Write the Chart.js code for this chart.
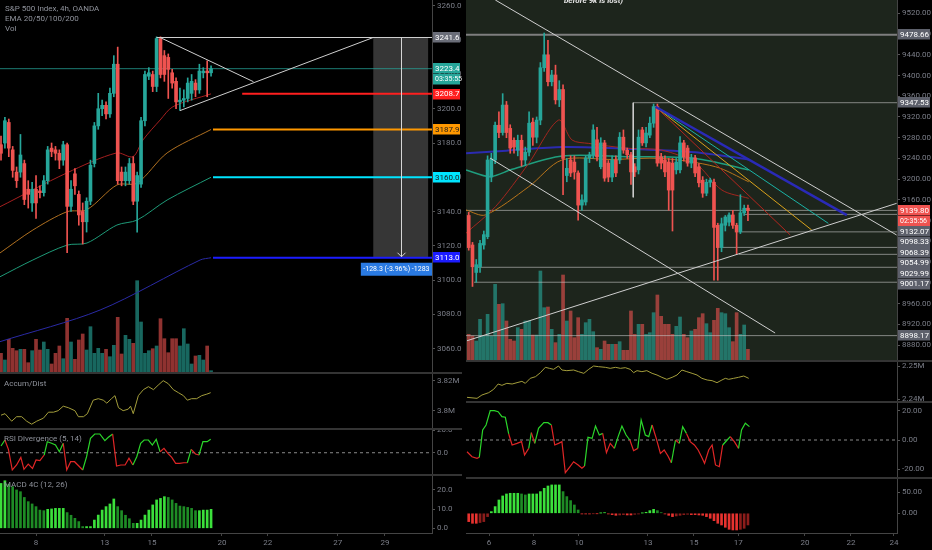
<!DOCTYPE html>
<html lang="en">
<head>
<meta charset="UTF-8">
<title>S&amp;P 500 4h / BTC 4h</title>
<script src="https://cdn.jsdelivr.net/npm/chart.js"></script>
<style>
  body { margin:0; background:#000; width:932px; height:550px; overflow:hidden; position:relative;
         font-family: Roboto, "Liberation Sans", sans-serif; }
  canvas { position:absolute; }
  .txt { position:absolute; color:#8f929b; font-size:8px; line-height:10px; white-space:nowrap; }
  .note { position:absolute; color:#e6e6e6; font-size:8px; font-style:italic; font-weight:bold; white-space:nowrap; }
  .sep { position:absolute; background:#343434; height:2px; }
</style>
</head>
<body>
<canvas id="lMain" width="462" height="373" style="left:0;top:0"></canvas>
<canvas id="lAd" width="462" height="56" style="left:0;top:373px"></canvas>
<canvas id="lRsi" width="462" height="46" style="left:0;top:429px"></canvas>
<canvas id="lMacd" width="462" height="75" style="left:0;top:475px"></canvas>
<canvas id="rMain" width="466" height="361" style="left:466px;top:0"></canvas>
<canvas id="rAd" width="466" height="41" style="left:466px;top:361px"></canvas>
<canvas id="rRsi" width="466" height="76" style="left:466px;top:402px"></canvas>
<canvas id="rMacd" width="466" height="72" style="left:466px;top:478px"></canvas>

<div class="sep" style="left:0;width:462px;top:372px"></div>
<div class="sep" style="left:0;width:462px;top:428px"></div>
<div class="sep" style="left:0;width:462px;top:474px"></div>
<div class="sep" style="left:466px;width:466px;top:360px"></div>
<div class="sep" style="left:466px;width:466px;top:401px"></div>
<div class="sep" style="left:466px;width:466px;top:477px"></div>

<div class="txt" style="left:5px;top:4px">S&amp;P 500 Index, 4h, OANDA</div>
<div class="txt" style="left:5px;top:14px">EMA 20/50/100/200</div>
<div class="txt" style="left:5px;top:24px">Vol</div>
<div class="txt" style="left:4px;top:379px">Accum/Dist</div>
<div class="txt" style="left:4px;top:434px">RSI Divergence (5, 14)</div>
<div class="txt" style="left:4px;top:480px">MACD 4C (12, 26)</div>
<div class="note" style="left:564px;top:-4px">before 9k is lost)</div>

<script>
// ---------- S&P 500 (left), candle index = 4h bar ----------
const spxOHLC = [
  [3179,3184,3170,3174],[3180,3195,3177,3193],[3192,3194,3172,3177],[3176,3178,3160,3164],[3163,3166,3154,3158],
  [3163,3185,3160,3173],[3168,3170,3144,3147],[3153,3158,3142,3150],[3145,3157,3140,3153],[3153,3161,3136,3145],
  [3152,3155,3148,3151],[3151,3161,3149,3158],[3158,3178,3156,3176],[3177,3180,3172,3175],[3176,3178,3170,3174],
  [3174,3176,3165,3170],[3170,3181,3167,3179],[3179,3180,3116,3143],[3143,3158,3140,3153],[3162,3165,3150,3155],
  [3150,3152,3132,3138],[3140,3145,3121,3134],[3134,3148,3128,3146],[3146,3170,3144,3167],[3168,3192,3166,3190],
  [3190,3209,3188,3200],[3200,3205,3196,3202],[3202,3204,3194,3197],[3197,3212,3195,3209],[3209,3231,3207,3226],
  [3226,3236,3156,3158],[3163,3166,3155,3158],[3158,3166,3155,3163],[3158,3171,3156,3168],[3168,3172,3144,3146],
  [3146,3163,3128,3161],[3156,3195,3154,3193],[3193,3222,3190,3220],[3219,3224,3217,3221],[3220,3222,3210,3213],
  [3213,3242,3210,3241],[3241,3242,3218,3220],[3231,3234,3216,3220],[3230,3232,3206,3223],[3221,3223,3212,3215],
  [3216,3218,3200,3204],[3204,3212,3199,3205],[3205,3211,3201,3206],[3206,3218,3204,3215],[3209,3220,3205,3216],
  [3215,3217,3207,3211],[3211,3226,3209,3222],[3221,3224,3218,3222],[3222,3228,3207,3221],[3221,3225,3219,3223.4]
];
const spxVol = [1970,1300,3370,2470,2230,2370,2370,1030,2230,3370,2300,3100,2370,900,1970,2700,1430,5470,3100,1370,
  3300,3900,2300,4630,1970,2470,1970,2370,1630,2770,5570,1900,3770,3370,2970,9230,5100,1970,2230,2430,
  2700,5430,3430,2030,3430,3430,2700,4430,2900,900,1700,1770,1300,2700,230];
const spxEma20 = [[-0.26,3142.8],[16.9,3162.5],[29.7,3174.2],[33.9,3172.0],[36.5,3181.8],[40.9,3193.4],[44.2,3201.2],[54,3208.7]];
const spxEma50 = [[-0.26,3115.8],[8.2,3129.2],[17.0,3139.9],[22.1,3141.1],[29.8,3155.5],[35.0,3156.6],[42.7,3174.2],[54,3187.9]];
const spxEma100 = [[-0.26,3101.9],[8.2,3111.7],[17.0,3120.4],[22.1,3121.6],[29.8,3132.1],[35.0,3135.0],[42.7,3146.7],[54,3160.0]];
const spxEma200 = [[-0.26,3064.0],[25.5,3082.5],[51.2,3111.7],[54,3113.0]];
const spxLevels = [3223.4, 3208.7, 3187.9, 3160.0, 3113.0];
const spxLevelFrom = [-0.26, 62, 54.5, 54.5, 54.5];
const spxTopLine = 3241.6;
const spxTrend = [[40.0,3241.6,110.8,3241.6],[40.9,3241.6,64.9,3215.8],[46.0,3198.9,95.7,3241.6]];
const spxProj = [95.7, 109.8, 3241.6, 3113.0, 102.8];
const spxProjText = '-128.3 (-3.96%) -1283';
const spxClock = '03:35:55';
const spxPriceTicks = [3060,3080,3100,3120,3140,3160,3180,3200,3220,3240,3260];
const spxAD = [[0,3.797],[1.03,3.798],[2.74,3.793],[4.02,3.796],[5.31,3.796],[6.6,3.793],[7.88,3.791],[9.17,3.793],
  [10.9,3.795],[12.2,3.799],[13.5,3.799],[14.7,3.800],[16.0,3.803],[17.3,3.802],[19.0,3.800],[19.9,3.796],[21.2,3.796],
  [22.2,3.798],[23.7,3.807],[25.0,3.808],[26.3,3.807],[27.2,3.805],[28.4,3.808],[29.3,3.810],[30.2,3.802],[31.4,3.800],
  [32.7,3.801],[33.3,3.803],[34.0,3.798],[35.3,3.810],[36.6,3.814],[37.9,3.816],[39.2,3.814],[40.4,3.817],[41.7,3.820],
  [43.0,3.818],[44.3,3.814],[45.6,3.812],[46.9,3.810],[47.9,3.807],[49.0,3.808],[50.3,3.808],[51.6,3.810],[52.9,3.811],[53.9,3.812]];
const spxRSI = [[0,5.9],[1.0,11.2],[1.9,3.0],[2.9,-15.2],[4.0,-10.8],[5.1,-4.1],[5.9,-14.6],[7.0,-10.0],[8.1,-13.8],
  [9.0,-6.4],[10.0,-7.0],[11.1,-2.0],[11.9,9.7],[13.0,8.3],[14.0,6.8],[15.0,0.9],[16.0,8.3],[16.9,-15.2],[17.9,-7.9],
  [18.9,-7.9],[20.0,-11.7],[21.0,-15.2],[22.0,-3.5],[23.0,12.7],[24.1,16.5],[25.4,16.5],[26.7,10.6],[27.6,13.6],
  [28.7,16.5],[29.7,-11.7],[30.8,-10.8],[31.9,-10.8],[32.9,-4.9],[33.9,-10.8],[34.9,-3.5],[35.9,8.3],[36.8,11.2],
  [37.9,11.2],[38.9,6.8],[39.9,11.8],[40.9,0.9],[41.9,3.9],[42.9,-0.5],[43.9,-4.1],[44.9,-9.3],[45.9,-9.3],[47.0,-8.8],
  [47.9,-8.8],[48.9,3.0],[50.0,-1.1],[50.9,-2.0],[51.9,9.7],[53.0,9.7],[53.9,11.8]];
const spxRSIcol = 'ggrrrrrrrrrrgggggrrrrrgggggggrrrrrgggggggrrrrrrrgrrggg';
const spxMACD = [23.4,24.8,22.9,21.7,20.0,19.1,16.1,13.9,12.7,11.3,9.5,9.2,9.9,10.1,10.4,10.4,10.4,8.2,6.8,5.2,
  3.5,0.9,0.9,0.9,4.3,6.9,9.5,11.3,12.7,15.3,11.3,9.2,6.8,5.0,2.6,2.6,4.3,6.9,9.5,12.2,
  14.8,15.6,16.5,16.1,14.8,13.0,11.6,11.3,10.9,10.4,9.2,9.2,9.5,9.5,9.9];
const spxDays = ['8','13','15','20','22','27','29'];
const spxDayAt = [9.0, 26.7, 38.8, 56.8, 68.6, 86.6, 98.7];

// ---------- BTC (right) ----------
const btcOHLC = [
  [9130,9136,9063,9068],[9073,9078,8993,9031],[9020,9045,9001,9035],[9031,9082,9020,9076],[9073,9100,9065,9093],
  [9089,9245,9085,9237],[9204,9250,9195,9239],[9237,9310,9230,9304],[9304,9330,9280,9290],[9290,9365,9285,9343],
  [9343,9350,9280,9290],[9298,9305,9250,9260],[9275,9280,9250,9262],[9256,9285,9245,9275],[9275,9285,9225,9237],
  [9237,9262,9226,9252],[9252,9330,9245,9308],[9310,9318,9265,9281],[9281,9320,9270,9314],[9314,9425,9305,9415],
  [9415,9482,9408,9440],[9440,9468,9380,9388],[9388,9410,9380,9401],[9401,9420,9345,9353],[9353,9390,9340,9373],
  [9373,9382,9170,9240],[9207,9240,9195,9221],[9237,9245,9205,9212],[9233,9245,9200,9214],[9212,9216,9121,9150],
  [9150,9170,9140,9160],[9156,9245,9150,9241],[9241,9252,9232,9247],[9247,9305,9240,9295],[9276,9300,9235,9243],
  [9224,9280,9220,9270],[9270,9275,9196,9202],[9231,9236,9195,9204],[9204,9245,9195,9237],[9237,9245,9205,9212],
  [9237,9290,9230,9281],[9281,9295,9250,9256],[9256,9260,9240,9247],[9247,9252,9190,9214],[9224,9230,9205,9214],
  [9218,9295,9210,9281],[9295,9300,9265,9270],[9270,9300,9262,9289],[9285,9320,9280,9308],[9308,9345,9300,9340],
  [9340,9345,9225,9231],[9243,9250,9220,9231],[9237,9245,9205,9214],[9233,9240,9140,9179],[9231,9240,9100,9179],
  [9218,9240,9210,9233],[9218,9282,9212,9270],[9270,9275,9235,9243],[9260,9265,9225,9231],[9231,9248,9222,9241],
  [9241,9246,9205,9212],[9224,9230,9185,9193],[9198,9205,9165,9173],[9173,9200,9168,9194],[9194,9202,9185,9198],
  [9194,9200,9005,9107],[9111,9115,9005,9068],[9068,9125,9060,9114],[9111,9130,9100,9127],[9117,9135,9110,9131],
  [9131,9140,9105,9111],[9111,9115,9055,9098],[9098,9170,9095,9135],[9135,9150,9130,9144],[9144,9150,9120,9139.8]
];
const btcVol = [2667,2500,2000,4167,2500,4667,2500,7667,5667,5733,4000,2167,2000,3333,3167,4000,4000,2600,2600,9000,
  5333,5400,3167,1833,2667,8600,4000,5000,2333,4333,2667,3833,4167,2933,1333,1167,2000,1667,1667,1667,
  1933,1067,1067,5000,2667,3667,3667,2667,2833,4833,6600,4467,3667,3667,2667,3467,4400,2667,2333,3000,
  3167,4333,4733,3733,2833,4067,5267,4833,4733,3333,1933,4833,2667,3600,1167];
const btcEma20 = [[-0.7,9096],[7.1,9147],[15.9,9230.6],[23.8,9314],[27.4,9275.5],[31.8,9269],[42.4,9259.5],[51.2,9256],[60.1,9230.6],[67.1,9179],[74.2,9163]];
const btcEma50 = [[-0.7,9140.5],[4.4,9131],[15.9,9185.4],[24.7,9237],[38,9238],[51.2,9240],[65.4,9224],[74.2,9195]];
const btcEma100 = [[-0.7,9217.7],[5.7,9204.8],[11.5,9219],[24.7,9244.7],[42.4,9243.3],[60.1,9240],[74.2,9217.7]];
const btcEma200 = [[-0.7,9250],[10,9255],[25,9262],[45,9258],[60,9252],[74.2,9238]];
const btcLevels = [9478.66, 9347.53, 9139.80, 9132.07, 9098.33, 9068.39, 9054.99, 9029.99, 9001.17, 8898.17];
const btcLevelFrom = [-0.72, 43.6, -0.72, 73.2, 72.4, 67.2, 71.6, 2.2, 1.4, -0.72];
const btcTrend = [[7.05,9545.7,113.4,9092.3],[5.65,9240.8,81.2,8903.2],[-0.45,8888.3,113.4,9153.4],[43.6,9347.53,43.6,9165]];
const btcFanApex = [49.5, 9339.8];
const btcFanEnds = [[100.2,9130.8],[95.3,9114.8],[90.9,9101.9],[85.2,9092.3]];
const btcClock = '02:35:56';
const btcPriceTicks = [8880,8920,8960,9000,9040,9080,9120,9160,9200,9240,9280,9320,9360,9400,9440,9480,9520];
const btcAD = [[-0.45,2.2406],[2.2,2.2403],[3.5,2.2413],[5.3,2.2420],[6.6,2.2430],[7.8,2.2446],[8.8,2.2442],[10.1,2.2448],
  [11.5,2.2446],[12.8,2.2450],[14.1,2.2454],[15.0,2.2448],[16.3,2.2463],[17.7,2.2468],[19.0,2.2480],[20.3,2.2496],
  [21.4,2.2493],[22.5,2.2490],[23.8,2.2500],[24.7,2.2488],[26.0,2.2486],[27.8,2.2488],[29.1,2.2483],[30.5,2.2478],
  [31.8,2.2490],[33.1,2.2500],[34.4,2.2498],[36.2,2.2496],[37.5,2.2493],[38.9,2.2496],[40.2,2.2493],[41.5,2.2495],
  [42.8,2.2490],[43.7,2.2480],[44.6,2.2486],[45.9,2.2483],[47.2,2.2486],[48.6,2.2478],[49.9,2.2473],[51.2,2.2466],
  [52.5,2.2460],[53.9,2.2466],[55.2,2.2473],[56.5,2.2488],[57.8,2.2483],[59.2,2.2478],[60.5,2.2473],[61.8,2.2463],
  [63.2,2.2458],[64.5,2.2456],[65.8,2.2450],[67.1,2.2458],[68.0,2.2463],[68.9,2.2460],[70.2,2.2463],[71.5,2.2466],
  [72.9,2.2470],[74.2,2.2463]];
const btcRSI = [[-0.45,-8.0],[0.87,-11.4],[2.2,-12.5],[2.8,-11.8],[3.7,6.8],[4.6,10.2],[5.7,20.0],[6.8,20.0],[7.8,19.3],
  [8.8,15.9],[9.7,15.5],[10.6,4.1],[11.5,-3.4],[12.8,-2.3],[14.0,-1.1],[14.8,-10.2],[15.9,-5.7],[16.6,5.0],[17.5,-2.3],
  [18.5,8.0],[19.9,11.8],[21.0,11.8],[21.9,10.2],[22.8,-3.4],[23.8,-2.3],[24.7,-1.1],[25.6,-22.3],[26.7,-18.6],
  [27.8,-14.8],[29.0,-17.0],[30.0,-19.3],[30.7,-17.7],[31.6,1.8],[32.7,1.1],[33.6,9.5],[34.6,3.4],[35.5,4.5],
  [36.5,-8.6],[37.5,-2.3],[38.6,-5.7],[39.6,2.3],[40.6,9.5],[41.7,3.4],[42.7,0],[43.7,-7.3],[44.8,-5.7],[45.7,13.6],
  [46.8,3.4],[47.7,2.3],[48.6,10.2],[49.7,1.1],[50.8,-9.1],[51.8,-6.8],[52.8,-10.9],[53.7,-15.5],[54.8,0],[55.8,-2.3],
  [56.7,9.1],[57.7,4.5],[58.7,-1.1],[59.8,-3.4],[60.8,-6.8],[61.7,-11.4],[62.5,-15.9],[63.6,-6.8],[64.5,-3.4],
  [65.4,-17.0],[66.4,-18.2],[67.3,-3.4],[68.5,0],[69.3,2.3],[70.4,-1.1],[71.5,-5.7],[72.3,6.8],[73.3,11.4],[74.4,9.1]];
const btcRSIcol = 'rrrrggggggggrrrrrgrggggrrrrrrrrrgggggrrrggggrrggggrrrrrgrggrrrrrrrrrrggrrggg';
const btcMACD = [-19.8,-23.8,-23.8,-22,-19.8,-7.9,4,15.9,31.7,41.3,46,47.6,47.6,47.6,46,43.7,46,46,46,51.6,
  59.5,65,67.5,67.5,67.5,51.6,39.7,30.2,19.8,7.9,-1.6,-1.6,-1.6,-0.8,-0.8,0.5,1.6,-1.6,-3.2,-4.8,
  -4,-3.2,-4,-4,-2.4,-1.6,0.5,2.4,6.3,9.5,6.3,1.6,-1.6,-4.8,-7.9,-6.3,-4.8,-3.2,-2.4,-3.2,
  -3.2,-4,-4.8,-7.9,-11.9,-17.5,-23.8,-27.8,-33.3,-38.1,-39.7,-39.7,-38.1,-35.7,-27.8];
const btcDays = ['6','8','10','13','15','17','20','22','24'];
const btcDayAt = [5.4, 17.3, 29.2, 47.5, 59.7, 71.4, 89.1, 101.3, 112.7];

// ---------- view ----------
const L = { xMin: -0.26, xMax: 110.8, axisW: 30 };
const R = { xMin: -0.72, xMax: 113.5, axisW: 35 };
const UP = '#26a69a', DN = '#ef5350', AXC = '#7b7e88';
const FONT = { family: 'Roboto, "Liberation Sans", sans-serif', size: 8 };
Chart.defaults.font.family = FONT.family;

const barBase = { type: 'bar', grouped: false, barPercentage: 1, categoryPercentage: 1 };

function candleSets(ohlc) {
  const col = ohlc.map(k => k[3] >= k[0] ? UP : DN);
  return [
    Object.assign({}, barBase, { data: ohlc.map((k, i) => ({ x: i, y: [k[0], k[3]] })), backgroundColor: col, maxBarThickness: 3, minBarLength: 1, order: 1 }),
    Object.assign({}, barBase, { data: ohlc.map((k, i) => ({ x: i, y: [k[2], k[1]] })), backgroundColor: col, maxBarThickness: 1, order: 2 })
  ];
}
function volSet(ohlc, vol) {
  return Object.assign({}, barBase, {
    yAxisID: 'yv', data: vol.map((v, i) => ({ x: i, y: v })), maxBarThickness: 3, order: 9,
    backgroundColor: ohlc.map(k => k[3] >= k[0] ? 'rgba(38,166,154,0.62)' : 'rgba(239,83,80,0.6)')
  });
}
function line(pts, color, width, order, extra) {
  return Object.assign({ type: 'line', data: pts.map(p => ({ x: p[0], y: p[1] })), borderColor: color,
    borderWidth: width, pointRadius: 0, fill: false, tension: 0, order: order }, extra || {});
}
function seg(t, color, width) { return line([[t[0], t[1]], [t[2], t[3]]], color, width, 0); }
function macdSet(h) {
  const col = h.map((v, i) => {
    const p = i ? h[i - 1] : v;
    return v >= 0 ? (v >= p ? '#3be03b' : '#1e8c25') : (v <= p ? '#e8322f' : '#8c1d1b');
  });
  return Object.assign({}, barBase, { data: h.map((v, i) => ({ x: i, y: v })), backgroundColor: col, maxBarThickness: 2 });
}
function rsiSet(pts, flags) {
  return line(pts, '#2bd62b', 1.2, 1, { segment: { borderColor: c => flags[c.p1DataIndex] === 'g' ? '#2bd62b' : '#e02626' } });
}
function zeroLine(v) { return line([[v.xMin, 0], [v.xMax, 0]], '#8a8a8a', 1, 3, { borderDash: [3, 3] }); }

function pane(id, o) {
  const scales = {
    x: {
      type: 'linear', min: o.v.xMin, max: o.v.xMax, offset: false, display: !!o.xLabels,
      afterBuildTicks: s => { s.ticks = (o.xAt || []).map(v => ({ value: v })); },
      afterFit: s => { if (o.xLabels) s.height = 17; s.paddingLeft = 0; s.paddingRight = 0; },
      ticks: { color: AXC, font: FONT, maxRotation: 0, autoSkip: false, padding: 2, callback: (v, i) => o.xLabels ? o.xLabels[i] : '' },
      grid: { offset: false, drawOnChartArea: false, color: '#444', tickLength: 3 },
      border: { color: '#444' }
    },
    y: {
      type: 'linear', position: 'right', min: o.yMin, max: o.yMax,
      afterBuildTicks: s => { s.ticks = o.yTicks.map(v => ({ value: v })); },
      afterFit: s => { s.width = o.v.axisW; s.paddingTop = 0; s.paddingBottom = 0; },
      ticks: { color: AXC, font: FONT, padding: 2, callback: o.yFmt },
      grid: { drawOnChartArea: false, color: '#555', tickLength: 3 },
      border: { color: '#444' }
    }
  };
  if (o.volMax) scales.yv = { type: 'linear', display: false, min: 0, max: o.volMax };
  return new Chart(document.getElementById(id), {
    type: 'bar',
    data: { datasets: o.datasets },
    options: {
      responsive: false, animation: false, events: [],
      layout: { padding: 0 },
      plugins: { legend: { display: false }, tooltip: { enabled: false } },
      scales: scales
    },
    plugins: o.plugins || []
  });
}

// price tags on the axis, stacked so they never overlap
function tagPlugin(id, tags, bg) {
  return {
    id: id,
    beforeDraw(chart) {
      if (!bg) return;
      const a = chart.chartArea, ctx = chart.ctx;
      ctx.save(); ctx.fillStyle = bg; ctx.fillRect(a.left, a.top, a.width, a.height); ctx.restore();
    },
    afterDraw(chart) {
      const { ctx, chartArea: a, scales: { y } } = chart;
      const h = 10.5;
      let prev = -1e9;
      const list = tags.map(t => Object.assign({ py: y.getPixelForValue(t.p) }, t)).sort((m, n) => m.py - n.py);
      ctx.save();
      ctx.textBaseline = 'middle';
      list.forEach(t => {
        const cy = Math.max(t.py, prev + h);
        prev = cy;
        ctx.fillStyle = t.bg;
        ctx.fillRect(a.right + 1, Math.round(cy - h / 2), chart.width - a.right - 3, h);
        ctx.fillStyle = t.fg;
        ctx.font = (t.small ? '7px ' : '8px ') + FONT.family;
        ctx.fillText(t.text, a.right + 3, cy + 0.5);
      });
      ctx.restore();
    }
  };
}

// ---------------- LEFT PANES ----------------
const spxLevelCol = ['rgba(38,166,154,0.75)', '#ff1f1f', '#ff9800', '#00e5ff', '#1c1cff'];
const spxLevelW = [1, 2, 2, 2, 2];
const spxTagBg = ['#26a69a', '#ff1f1f', '#ff9800', '#00e5ff', '#1c1cff'];
const spxTagFg = ['#fff', '#fff', '#1a1a1a', '#1a1a1a', '#fff'];

const spxTags = [{ p: spxTopLine, text: spxTopLine.toFixed(1), bg: '#6a6d78', fg: '#fff' }];
spxLevels.forEach((p, i) => {
  spxTags.push({ p: p, text: p.toFixed(1), bg: spxTagBg[i], fg: spxTagFg[i] });
  if (i === 0) spxTags.push({ p: p, text: spxClock, bg: spxTagBg[i], fg: '#fff', small: true });
});

const projPlugin = {
  id: 'proj',
  beforeDatasetsDraw(chart) {
    const { ctx, scales: { x, y } } = chart;
    const x0 = x.getPixelForValue(spxProj[0]), x1 = x.getPixelForValue(spxProj[1]);
    const y0 = y.getPixelForValue(spxProj[2]), y1 = y.getPixelForValue(spxProj[3]);
    ctx.save();
    ctx.fillStyle = 'rgba(255,255,255,0.21)';
    ctx.fillRect(x0, y0, x1 - x0, y1 - y0);
    ctx.restore();
  },
  afterDatasetsDraw(chart) {
    const { ctx, chartArea: a, scales: { x, y } } = chart;
    const ax = Math.round(x.getPixelForValue(spxProj[4])) + 0.5;
    const y0 = y.getPixelForValue(spxProj[2]), y1 = y.getPixelForValue(spxProj[3]);
    ctx.save();
    ctx.strokeStyle = '#d6d6d6'; ctx.lineWidth = 1;
    ctx.beginPath(); ctx.moveTo(ax, y0); ctx.lineTo(ax, y1 - 1);
    ctx.moveTo(ax - 4, y1 - 5); ctx.lineTo(ax, y1 - 1); ctx.lineTo(ax + 4, y1 - 5); ctx.stroke();
    const bx = x.getPixelForValue(92.5), by = y1 + 5;
    ctx.fillStyle = '#2a7ae2';
    ctx.fillRect(bx, by, a.right - bx, 13);
    ctx.fillStyle = '#fff'; ctx.font = '7px ' + FONT.family;
    ctx.textAlign = 'center'; ctx.textBaseline = 'middle';
    ctx.fillText(spxProjText, (bx + a.right) / 2, by + 7, a.right - bx - 2);
    ctx.restore();
  }
};

const lMainSets = [].concat(
  spxTrend.map(t => seg(t, '#cfcfcf', 1)),
  candleSets(spxOHLC),
  [line(spxEma20, '#a51f1f', 1, 3, { tension: 0.3 }),
   line(spxEma50, '#b07020', 1, 3, { tension: 0.3 }),
   line(spxEma100, '#1e9a78', 1, 3, { tension: 0.3 }),
   line(spxEma200, '#2a2aa5', 1, 3, { tension: 0.3 })],
  spxLevels.map((p, i) => line([[spxLevelFrom[i], p], [L.xMax, p]], spxLevelCol[i], spxLevelW[i], 4)),
  [volSet(spxOHLC, spxVol)]
);

pane('lMain', {
  v: L, yMin: 3045.7, yMax: 3263.5, yTicks: spxPriceTicks, yFmt: v => v.toFixed(1),
  volMax: 37300, datasets: lMainSets,
  plugins: [projPlugin, tagPlugin('lTags', spxTags, null)]
});
pane('lAd', {
  v: L, yMin: 3.7878, yMax: 3.8251, yTicks: [3.80, 3.82], yFmt: v => (+v.toFixed(2)) + 'M',
  datasets: [line(spxAD, '#a39d3b', 1, 1)]
});
pane('lRsi', {
  v: L, yMin: -19.6, yMax: 20.9, yTicks: [0, 20], yFmt: v => v.toFixed(1),
  datasets: [rsiSet(spxRSI, spxRSIcol), zeroLine(L)]
});
pane('lMacd', {
  v: L, yMin: -2.45, yMax: 27.8, yTicks: [0, 10, 20], yFmt: v => v.toFixed(1),
  xAt: spxDayAt, xLabels: spxDays,
  datasets: [macdSet(spxMACD)]
});

// ---------------- RIGHT PANES ----------------
const btcTags = [];
btcLevels.forEach((p, i) => {
  const cur = i === 2;
  btcTags.push({ p: p, text: p.toFixed(2), bg: cur ? '#ef5350' : '#5d606b', fg: '#fff' });
  if (cur) btcTags.push({ p: p, text: btcClock, bg: '#ef5350', fg: '#fff', small: true });
});
const btcLevelCol = btcLevels.map((p, i) => i === 0 ? '#7e7e7e' : (i === 2 ? 'rgba(215,215,215,0.55)' : 'rgba(200,200,200,0.6)'));
const fanCol = ['#2a2ab8', '#1ab3a6', '#d9a21b', '#b3261e'];
const fanW = [2.5, 1, 1, 1];

const rMainSets = [].concat(
  btcTrend.map(t => seg(t, '#cfcfcf', 1)),
  btcFanEnds.map((e, i) => seg([btcFanApex[0], btcFanApex[1], e[0], e[1]], fanCol[i], fanW[i])),
  candleSets(btcOHLC),
  [line(btcEma20, '#a3261f', 1, 3, { tension: 0.3 }),
   line(btcEma50, '#b8741a', 1, 3, { tension: 0.3 }),
   line(btcEma100, '#1f9e7e', 1.5, 3, { tension: 0.3 }),
   line(btcEma200, '#2b2bb0', 2, 3, { tension: 0.3 })],
  btcLevels.map((p, i) => line([[btcLevelFrom[i], p], [R.xMax, p]], btcLevelCol[i], i === 0 ? 2 : 1, 4)),
  [volSet(btcOHLC, btcVol)]
);

pane('rMain', {
  v: R, yMin: 8849.2, yMax: 9545.7, yTicks: btcPriceTicks, yFmt: v => v.toFixed(2),
  volMax: 36100, datasets: rMainSets,
  plugins: [tagPlugin('rTags', btcTags, '#1d251c')]
});
pane('rAd', {
  v: R, yMin: 2.2392, yMax: 2.2515, yTicks: [2.24, 2.25], yFmt: v => v.toFixed(2) + 'M',
  datasets: [line(btcAD, '#a39d3b', 1, 1)]
});
pane('rRsi', {
  v: R, yMin: -25.9, yMax: 25.9, yTicks: [-20, 0, 20], yFmt: v => v.toFixed(2),
  datasets: [rsiSet(btcRSI, btcRSIcol), zeroLine(R)]
});
pane('rMacd', {
  v: R, yMin: -46.9, yMax: 84, yTicks: [0, 50], yFmt: v => v.toFixed(2),
  xAt: btcDayAt, xLabels: btcDays,
  datasets: [macdSet(btcMACD)]
});
</script>
</body>
</html>
